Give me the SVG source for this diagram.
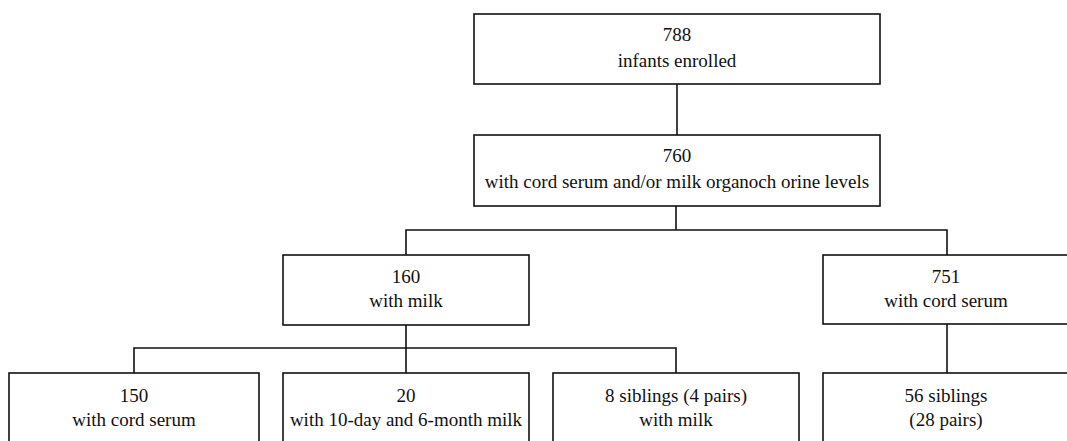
<svg xmlns="http://www.w3.org/2000/svg" width="1067" height="441" viewBox="0 0 1067 441">
<style>
.box{fill:#fff;stroke:#111;stroke-width:1.6}
.con{fill:none;stroke:#111;stroke-width:1.6}
text{font-family:"Liberation Serif","Times New Roman",serif;font-size:19px;fill:#111;text-anchor:middle}
</style>
<rect width="1067" height="441" fill="#fff"/>
<g id="connectors">
<path class="con" d="M677,84V135"/>
<path class="con" d="M676,206V230M406,255V230H947V255"/>
<path class="con" d="M406,325V373M134,373V348H676V373"/>
<path class="con" d="M947,324V373"/>
</g>
<g id="n788"><rect class="box" x="474" y="14" width="406" height="70"/><text x="677" y="41">788</text><text x="677" y="67">infants enrolled</text></g>
<g id="n760"><rect class="box" x="474" y="135" width="406" height="71"/><text x="677" y="162">760</text><text x="677" y="188">with cord serum and/or milk organoch orine levels</text></g>
<g id="n160"><rect class="box" x="283" y="255" width="246" height="70"/><text x="406" y="283">160</text><text x="406" y="307">with milk</text></g>
<g id="n751"><rect class="box" x="823" y="255" width="248" height="69"/><text x="946" y="283">751</text><text x="946" y="307">with cord serum</text></g>
<g id="n150"><rect class="box" x="9" y="373" width="250" height="90"/><text x="134" y="402">150</text><text x="134" y="426">with cord serum</text></g>
<g id="n20"><rect class="box" x="283" y="373" width="246" height="90"/><text x="406" y="402">20</text><text x="406" y="426">with 10-day and 6-month milk</text></g>
<g id="n8"><rect class="box" x="553" y="373" width="246" height="90"/><text x="676" y="402">8 siblings (4 pairs)</text><text x="676" y="426">with milk</text></g>
<g id="n56"><rect class="box" x="823" y="373" width="248" height="90"/><text x="946" y="402">56 siblings</text><text x="946" y="426">(28 pairs)</text></g>
</svg>
